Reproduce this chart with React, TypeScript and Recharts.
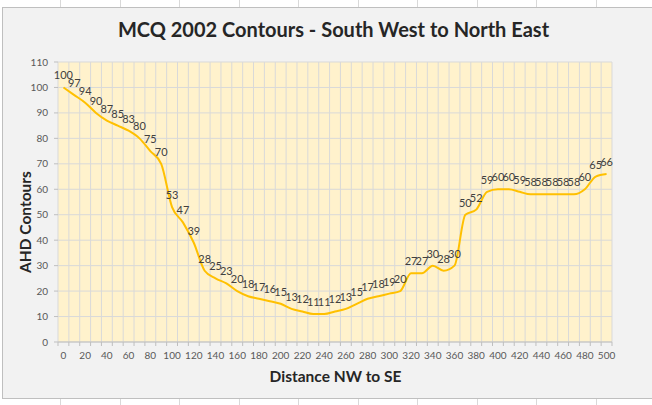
import React from 'react';
import { LineChart, Line, XAxis, YAxis, CartesianGrid, LabelList } from 'recharts';

const distances = [
  0, 10, 20, 30, 40, 50, 60, 70, 80, 90,
  100, 110, 120, 130, 140, 150, 160, 170, 180, 190,
  200, 210, 220, 230, 240, 250, 260, 270, 280, 290,
  300, 310, 320, 330, 340, 350, 360, 370, 380, 390,
  400, 410, 420, 430, 440, 450, 460, 470, 480, 490, 500,
];
const contours = [
  100, 97, 94, 90, 87, 85, 83, 80, 75, 70,
  53, 47, 39, 28, 25, 23, 20, 18, 17, 16,
  15, 13, 12, 11, 11, 12, 13, 15, 17, 18,
  19, 20, 27, 27, 30, 28, 30, 50, 52, 59,
  60, 60, 59, 58, 58, 58, 58, 58, 60, 65, 66,
];
const xTickLabels = [
  0, 20, 40, 60, 80, 100, 120, 140, 160, 180, 200, 220, 240,
  260, 280, 300, 320, 340, 360, 380, 400, 420, 440, 460, 480, 500,
];
const yTickValues = [0, 10, 20, 30, 40, 50, 60, 70, 80, 90, 100, 110];

const chartTitle = 'MCQ 2002 Contours - South West to North East';
const xTitle = 'Distance NW to SE';
const yTitle = 'AHD Contours';

const FONT = 'Lato, "Open Sans", sans-serif';

const data = distances.map((d, i) => ({ distance: d, ahd: contours[i] }));
const halfStep = (distances[1] - distances[0]) / 2;
const boundaries = [
  ...distances.map((d) => d - halfStep),
  distances[distances.length - 1] + halfStep,
];
const xDomain: [number, number] = [boundaries[0], boundaries[boundaries.length - 1]];
const labelSet = new Set(xTickLabels);
const allXTicks = [...boundaries, ...xTickLabels].sort((a, b) => a - b);

const XTick = (props: any) => {
  const { x, y, payload } = props;
  const v = payload.value;
  if (labelSet.has(v)) {
    return (
      <text x={x} y={y + 17} textAnchor="middle" fontSize={10} fill="#595959" fontFamily={FONT}>
        {v}
      </text>
    );
  }
  return <line x1={x} x2={x} y1={y} y2={y + 4} stroke="#bfbfbf" />;
};

const cellLines = [60, 119.5, 179, 238.5, 298, 357.5, 417, 476.5, 536, 595.5];

export default function App() {
  return (
    <div
      style={{
        position: 'absolute',
        left: 0,
        top: 0,
        width: 652,
        height: 405,
        background: '#ffffff',
        overflow: 'hidden',
        fontFamily: FONT,
      }}
    >
      {cellLines.map((x) => (
        <React.Fragment key={x}>
          <div style={{ position: 'absolute', left: x, top: 0, width: 1, height: 7, background: '#d9d9d9' }} />
          <div style={{ position: 'absolute', left: x, top: 399, width: 1, height: 6, background: '#d9d9d9' }} />
        </React.Fragment>
      ))}
      <div
        style={{
          position: 'absolute',
          left: 2,
          top: 7,
          width: 700,
          height: 392,
          background: '#f2f2f2',
          border: '1px solid #bfbfbf',
          boxSizing: 'border-box',
        }}
      />
      <div style={{ position: 'absolute', left: 0, top: 0 }}>
        <LineChart
          width={652}
          height={405}
          data={data}
          margin={{ top: 62, right: 40, left: 0, bottom: 0 }}
        >
          <CartesianGrid
            fill="#FFF2CC"
            stroke="#d9d9d9"
            strokeWidth={1}
            verticalCoordinatesGenerator={({ offset }: any) =>
              boundaries.map(
                (b) => offset.left + ((b - xDomain[0]) / (xDomain[1] - xDomain[0])) * offset.width
              )
            }
          />
          <XAxis
            dataKey="distance"
            type="number"
            domain={xDomain}
            ticks={allXTicks}
            interval={0}
            height={63}
            tickSize={0}
            tickMargin={0}
            tickLine={false}
            axisLine={{ stroke: '#bfbfbf' }}
            tick={<XTick />}
            allowDataOverflow
          />
          <YAxis
            type="number"
            domain={[0, 110]}
            ticks={yTickValues}
            interval={0}
            width={58}
            axisLine={false}
            tickLine={{ stroke: '#bfbfbf' }}
            tickSize={4}
            tickMargin={6}
            tick={{ fontSize: 10, fill: '#595959', fontFamily: FONT }}
          />
          <Line
            dataKey="ahd"
            type="monotone"
            stroke="#FFC000"
            strokeWidth={2}
            dot={false}
            isAnimationActive={false}
          >
            <LabelList
              dataKey="ahd"
              position="top"
              offset={8}
              fontSize={11}
              fill="#404040"
              fontFamily={FONT}
            />
          </Line>
        </LineChart>
      </div>
      <div
        style={{
          position: 'absolute',
          left: 0,
          top: 16,
          width: 667,
          textAlign: 'center',
          fontSize: 20,
          fontWeight: 700,
          color: '#262626',
          lineHeight: '26px',
          whiteSpace: 'nowrap',
        }}
      >
        {chartTitle}
      </div>
      <div
        style={{
          position: 'absolute',
          left: 0,
          top: 366,
          width: 671,
          textAlign: 'center',
          fontSize: 15.5,
          fontWeight: 700,
          color: '#262626',
          lineHeight: '20px',
          whiteSpace: 'nowrap',
        }}
      >
        {xTitle}
      </div>
      <div
        style={{
          position: 'absolute',
          left: 25 - 80,
          top: 222 - 10,
          width: 160,
          height: 20,
          textAlign: 'center',
          fontSize: 15.5,
          fontWeight: 700,
          color: '#262626',
          lineHeight: '20px',
          whiteSpace: 'nowrap',
          transform: 'rotate(-90deg)',
        }}
      >
        {yTitle}
      </div>
    </div>
  );
}
